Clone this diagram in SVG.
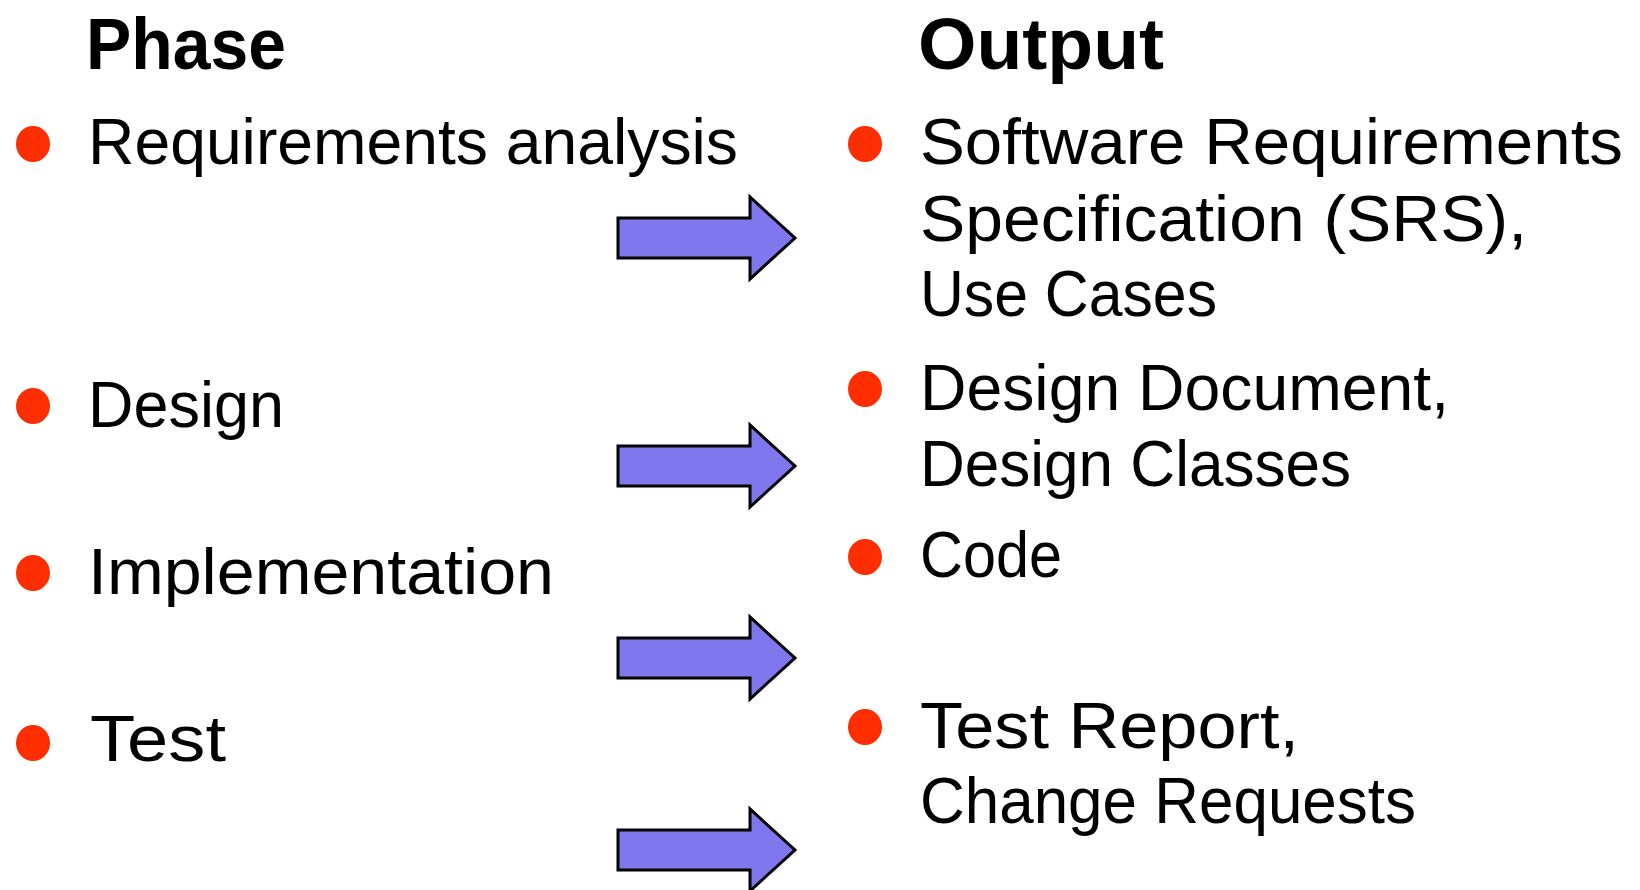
<svg xmlns="http://www.w3.org/2000/svg" width="1640" height="890" viewBox="0 0 1640 890">
<style>
.h{font-family:"Liberation Sans",Arial,sans-serif;font-weight:bold;font-size:72px;fill:#000}
.t{font-family:"Liberation Sans",Arial,sans-serif;font-size:64px;fill:#000}
.b{fill:#FF2E00}
.arr{fill:#7F77EE;stroke:#000;stroke-width:3;stroke-linejoin:miter}
</style>
<defs>
<path id="arrow" d="M0,-20 L132,-20 L132,-41 L177,0 L132,41 L132,20 L0,20 Z"/>
</defs>
<rect width="1640" height="890" fill="#fff"/>
<g id="headers">
<text class="h" x="86" y="69" textLength="200" lengthAdjust="spacingAndGlyphs">Phase</text>
<text class="h" x="918" y="69" textLength="246" lengthAdjust="spacingAndGlyphs">Output</text>
</g>
<g id="phase-requirements">
<ellipse class="b" cx="33" cy="144" rx="17" ry="18"/>
<text class="t" x="88" y="164" textLength="650" lengthAdjust="spacingAndGlyphs">Requirements analysis</text>
</g>
<g id="phase-design">
<ellipse class="b" cx="33" cy="406" rx="17" ry="18"/>
<text class="t" x="88" y="427" textLength="196" lengthAdjust="spacingAndGlyphs">Design</text>
</g>
<g id="phase-implementation">
<ellipse class="b" cx="33" cy="573" rx="17" ry="18"/>
<text class="t" x="88" y="594" textLength="466" lengthAdjust="spacingAndGlyphs">Implementation</text>
</g>
<g id="phase-test">
<ellipse class="b" cx="33" cy="743" rx="17" ry="18"/>
<text class="t" x="90" y="761" textLength="136" lengthAdjust="spacingAndGlyphs">Test</text>
</g>
<g id="output-srs">
<ellipse class="b" cx="865" cy="144" rx="17" ry="18"/>
<text class="t" x="920" y="164" textLength="703" lengthAdjust="spacingAndGlyphs">Software Requirements</text>
<text class="t" x="920" y="241" textLength="607" lengthAdjust="spacingAndGlyphs">Specification (SRS),</text>
<text class="t" x="920" y="316" textLength="297" lengthAdjust="spacingAndGlyphs">Use Cases</text>
</g>
<g id="output-design">
<ellipse class="b" cx="865" cy="389" rx="17" ry="18"/>
<text class="t" x="920" y="410" textLength="529" lengthAdjust="spacingAndGlyphs">Design Document,</text>
<text class="t" x="920" y="486" textLength="431" lengthAdjust="spacingAndGlyphs">Design Classes</text>
</g>
<g id="output-code">
<ellipse class="b" cx="865" cy="557" rx="17" ry="18"/>
<text class="t" x="920" y="577" textLength="142" lengthAdjust="spacingAndGlyphs">Code</text>
</g>
<g id="output-test">
<ellipse class="b" cx="865" cy="727" rx="17" ry="18"/>
<text class="t" x="920" y="748" textLength="379" lengthAdjust="spacingAndGlyphs">Test Report,</text>
<text class="t" x="920" y="823" textLength="496" lengthAdjust="spacingAndGlyphs">Change Requests</text>
</g>
<g id="connectors">
<use href="#arrow" class="arr" x="618" y="238"/>
<use href="#arrow" class="arr" x="618" y="466"/>
<use href="#arrow" class="arr" x="618" y="658"/>
<use href="#arrow" class="arr" x="618" y="850"/>
</g>
</svg>
